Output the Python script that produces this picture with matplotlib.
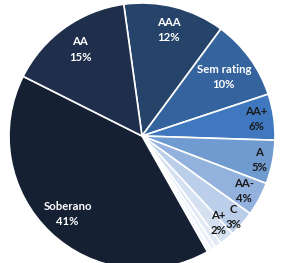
import numpy as np
import matplotlib
matplotlib.use("Agg")
import matplotlib.pyplot as plt

categories = ["AAA", "Sem rating", "AA+", "A", "AA-", "C", "A+", "A-", "BBB", "BB", "Soberano", "AA"]
values = [12.3, 9.8, 5.6, 5.3, 4.1, 3.2, 1.8, 0.8, 0.6, 0.5, 40.6, 15.4]
show_label = [True, True, True, True, True, True, True, False, False, False, True, True]
colors = ["#26446a", "#35639d", "#3f78bf", "#6f9bd1", "#92b1dc", "#bccfea",
          "#d5e0f1", "#e1e9f5", "#eaf0f8", "#f2f5fb", "#152033", "#1f2f4b"]
text_colors = ["white", "white", "#1a1a1a", "#1a1a1a", "#1a1a1a", "#1a1a1a",
               "#1a1a1a", "#1a1a1a", "#1a1a1a", "#1a1a1a", "white", "white"]
label_r = [0.82, 0.76, 0.87, 0.9, 0.87, 0.92, 0.86, 0.9, 0.9, 0.9, 0.81, 0.8]
label_shift = {"A+": (0.025, 0.01)}

W, H = 299, 263
fig = plt.figure(figsize=(W / 100, H / 100), dpi=100)
cx, cy, R = 142, 136, 133
ax = fig.add_axes([(cx - R) / W, (H - cy - R) / H, 2 * R / W, 2 * R / H])

wedges, _ = ax.pie(values, colors=colors, startangle=97.9, counterclock=False,
                   wedgeprops=dict(edgecolor="white", linewidth=1.2))
ax.set_xlim(-1, 1)
ax.set_ylim(-1, 1)
ax.set_aspect("equal")
ax.axis("off")

total = sum(values)
for w, cat, v, show, tc, r in zip(wedges, categories, values, show_label, text_colors, label_r):
    if not show:
        continue
    ang = np.deg2rad((w.theta1 + w.theta2) / 2)
    x, y = r * np.cos(ang), r * np.sin(ang)
    sx, sy = label_shift.get(cat, (0, 0))
    pct = f"{round(v / total * 100):.0f}%"
    ax.text(x + sx, y + sy, f"{cat}\n{pct}", ha="center", va="center", color=tc,
            fontsize=8.2, fontweight="bold", family="Lato", linespacing=1.45)

fig.savefig("out.png", dpi=100)
